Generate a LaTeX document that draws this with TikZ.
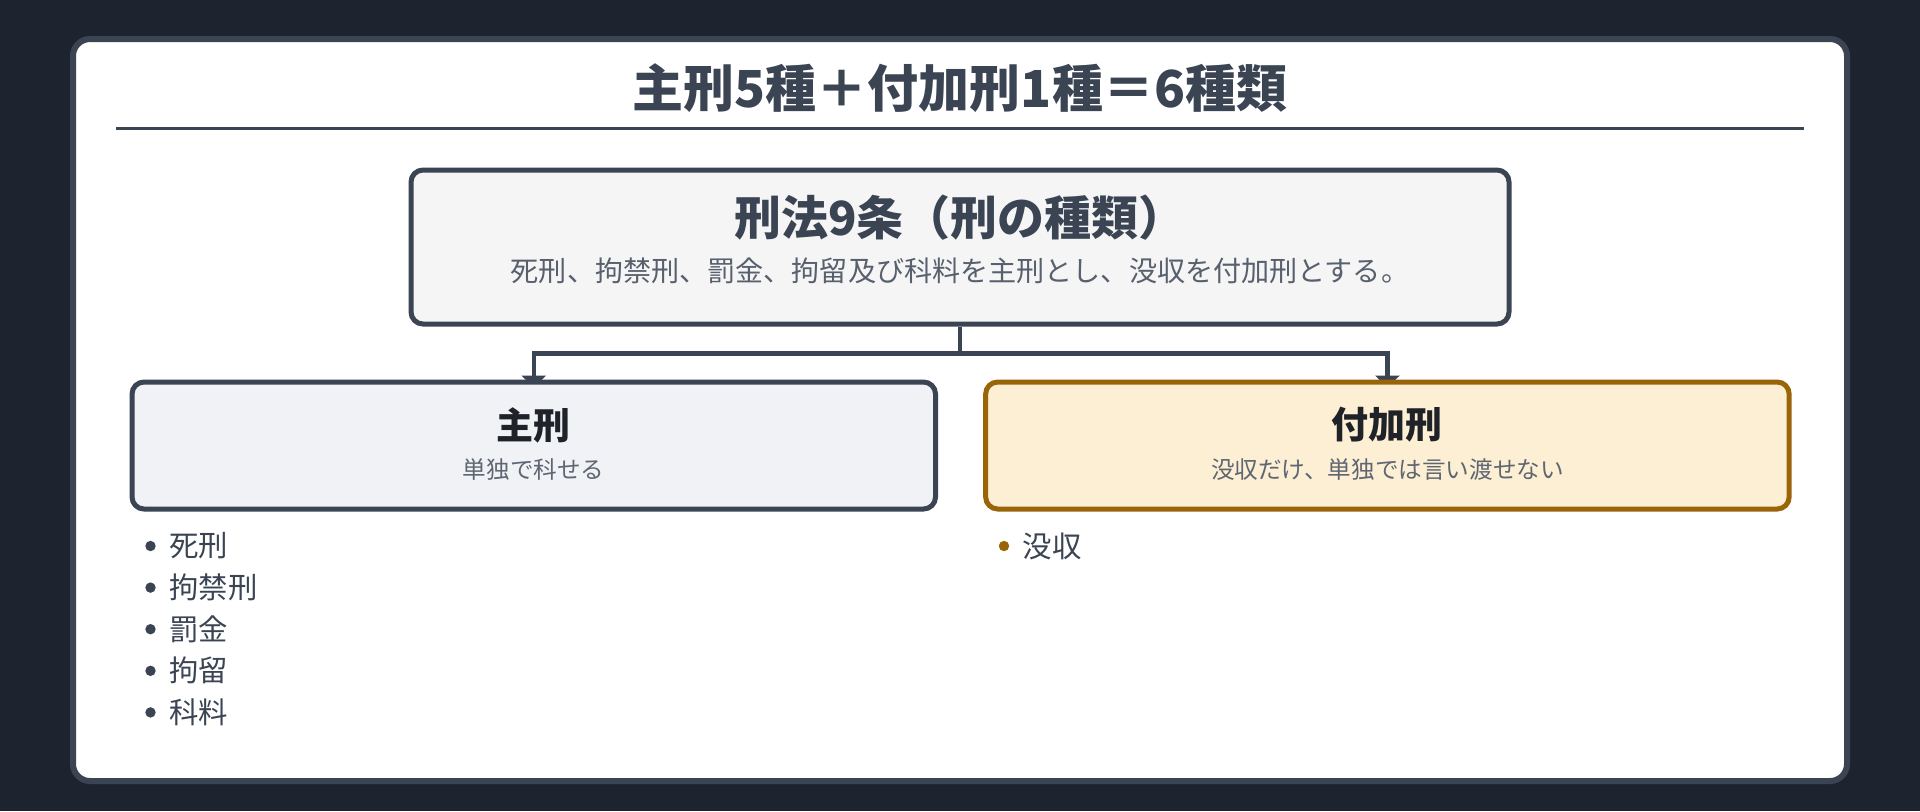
\documentclass[tikz,border=0pt]{standalone}
\usepackage{fontspec}
\setmainfont{Noto Sans CJK JP}
\usepackage{xcolor}
\usetikzlibrary{arrows.meta}

\definecolor{bgdark}{HTML}{1E242F}
\definecolor{slate}{HTML}{3B4453}
\definecolor{ink}{HTML}{1F2329}
\definecolor{subgray}{HTML}{5F6672}
\definecolor{lawfill}{HTML}{F5F5F5}
\definecolor{mainfill}{HTML}{F0F2F5}
\definecolor{addfill}{HTML}{FCEFD4}
\definecolor{gold}{HTML}{9A6508}

\pgfdeclarelayer{card}
\pgfdeclarelayer{back}
\pgfsetlayers{card,back,main}

\tikzset{
    box/.style={draw=slate,line width=2.5pt,rounded corners=6pt,inner sep=0pt},
    conn/.style={draw=slate,line width=2.25pt},
    boxhead/.style={font=\fontsize{18.5}{22}\selectfont\bfseries,text=ink,inner sep=0pt},
    boxsub/.style={font=\fontsize{11.8}{14}\selectfont,text=subgray,inner sep=0pt},
    item/.style={font=\fontsize{14.7}{18}\selectfont,text=slate,anchor=west,inner sep=0pt},
    dot/.style={circle,fill=slate,inner sep=0pt,minimum size=5.2pt}
}

\begin{document}
\begin{tikzpicture}[x=0.5pt,y=-0.5pt]
    \begin{pgfonlayer}{card}
        \fill[bgdark] (0,0) rectangle (1920,811);
        \draw[slate,fill=white,line width=3pt,rounded corners=8.5pt] (73,39) rectangle (1847,781);
    \end{pgfonlayer}
    \useasboundingbox (0,0) rectangle (1920,811);

    % title
    \node[font=\fontsize{25.5}{30}\selectfont\bfseries,text=slate,inner sep=0pt] (title) at (960,88) {主刑5種＋付加刑1種＝6種類};
    \draw[slate,line width=1.3pt] (116,128.5) -- (1804,128.5);

    % article 9
    \node[box,fill=lawfill,minimum width=549pt,minimum height=77pt] (law) at (960,247) {};
    \node[font=\fontsize{23.5}{28}\selectfont\bfseries,text=slate,inner sep=0pt] (lawhead) at (960,218) {刑法9条（刑の種類）};
    \node[font=\fontsize{14.05}{17}\selectfont,text=slate!85!white,inner sep=0pt] (lawsub) at (960,270.5) {死刑、拘禁刑、罰金、拘留及び科料を主刑とし、没収を付加刑とする。};

    % two kinds
    \node[box,fill=mainfill,minimum width=401.75pt,minimum height=63.5pt] (jukei) at (533.75,445.5) {};
    \node[boxhead] (jukeihead) at (533.75,425) {主刑};
    \node[boxsub] (jukeisub) at (533.75,470) {単独で科せる};

    \node[box,draw=gold,fill=addfill,minimum width=401.75pt,minimum height=63.5pt] (fuka) at (1387.4,445.5) {};
    \node[boxhead] (fukahead) at (1387.4,425) {付加刑};
    \node[boxsub] (fukasub) at (1387.4,470) {没収だけ、単独では言い渡せない};

    % connectors (behind the boxes)
    \coordinate (split) at (960,353.5);
    \begin{pgfonlayer}{back}
        \draw[conn] (law.south) -- (split);
        \draw[conn,-{Triangle[length=6pt,width=12pt]},shorten >=-4pt] (split) -| (jukei.north);
        \draw[conn,-{Triangle[length=6pt,width=12pt]},shorten >=-4pt] (split) -| (fuka.north);
    \end{pgfonlayer}

    % lists
    \foreach \txt [count=\i] in {死刑,拘禁刑,罰金,拘留,科料} {
        \node[dot] (jd\i) at (150.5,{546+41.6*(\i-1)}) {};
        \node[item] (ji\i) at (169,{546+41.6*(\i-1)}) {\txt};
    }
    \node[dot,fill=gold] (fd1) at (1004,546) {};
    \node[item] (fi1) at (1022.5,546) {没収};
\end{tikzpicture}
\end{document}
